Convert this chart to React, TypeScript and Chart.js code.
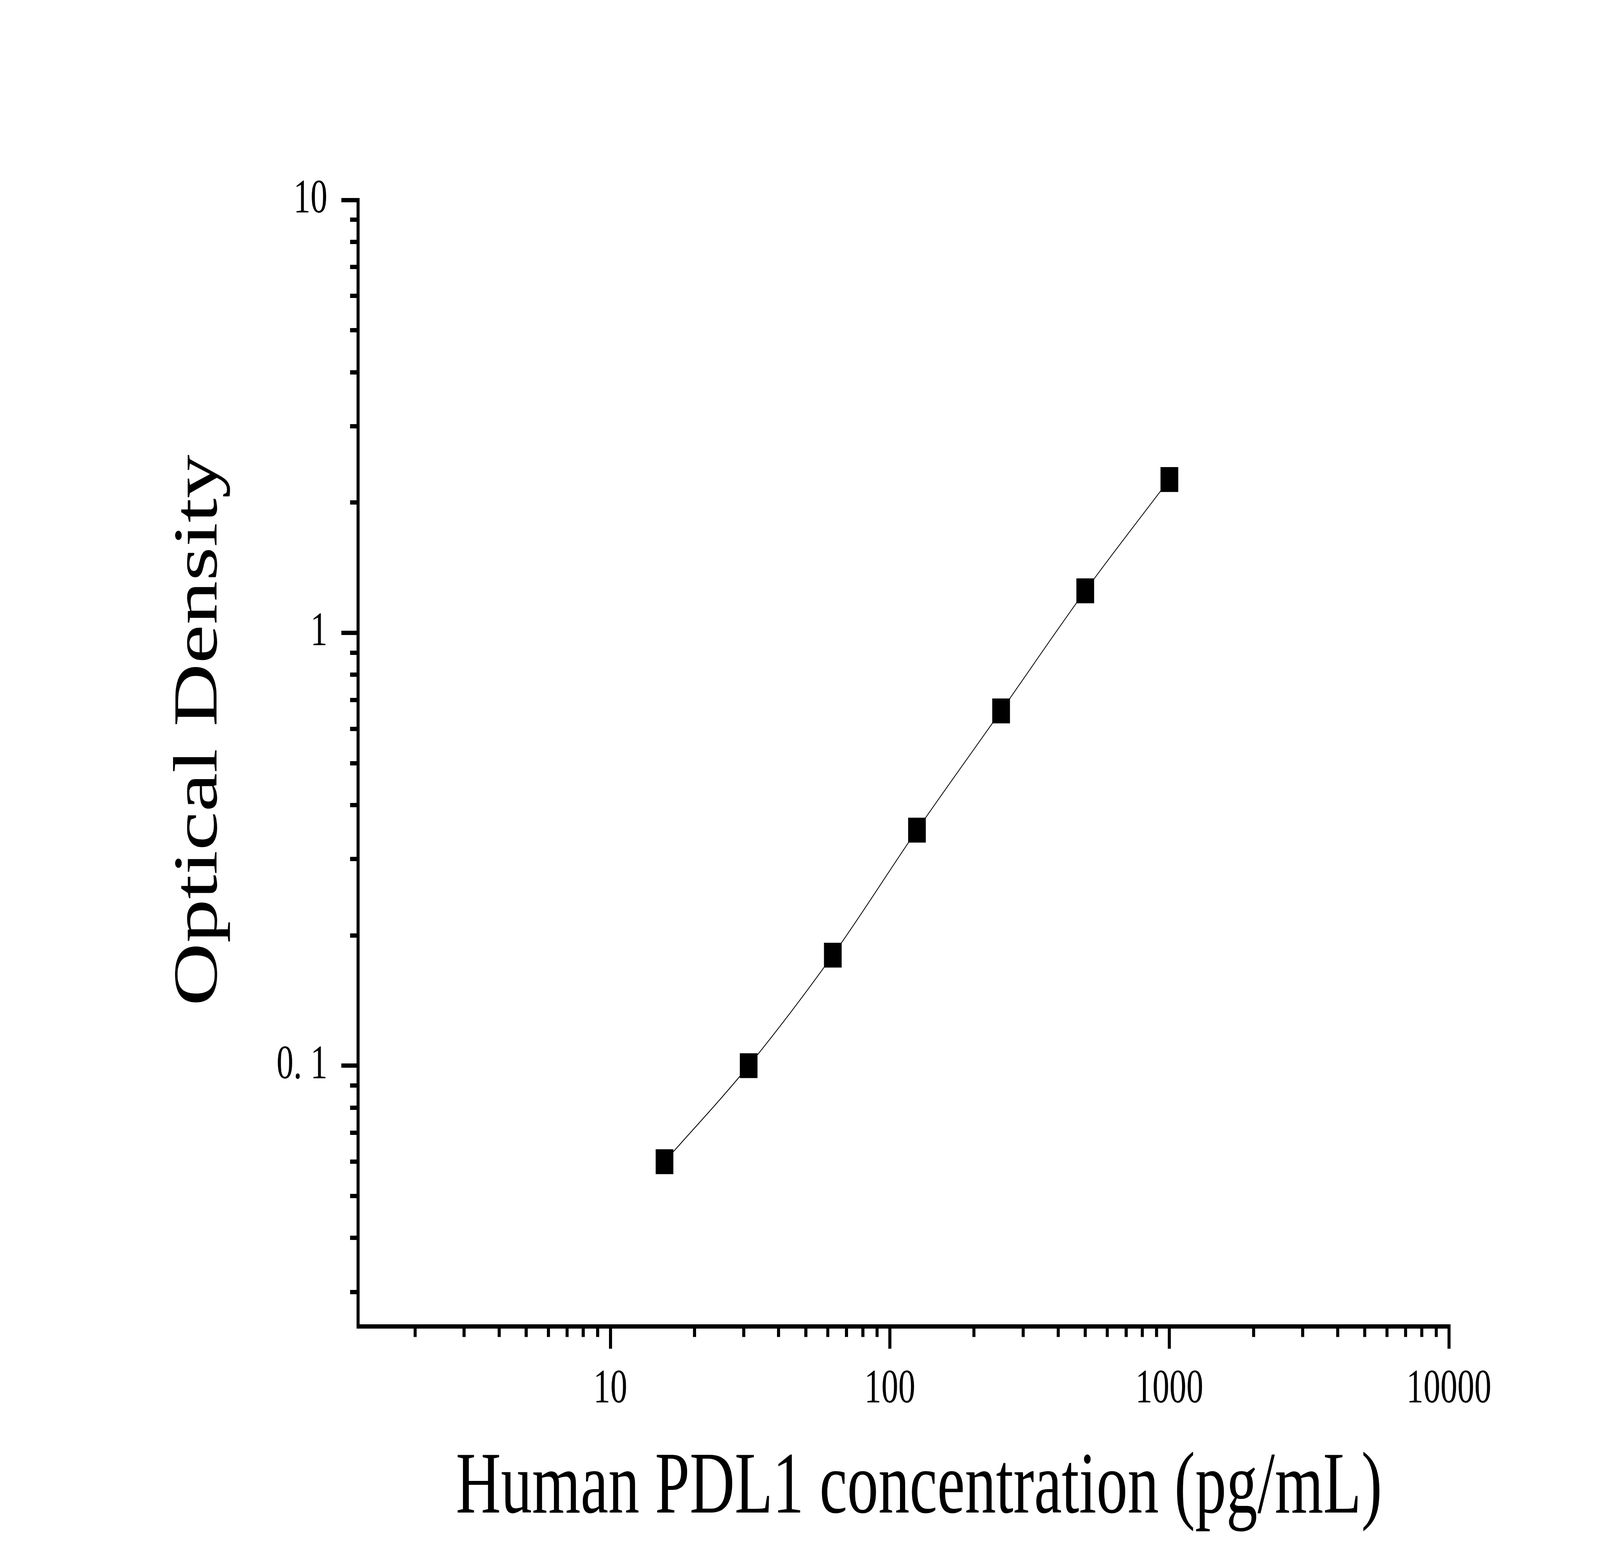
import React, { useEffect, useRef } from "react";
import { Chart, registerables } from "chart.js";

Chart.register(...registerables);

// ---- data ----
const concentrations = [15.625, 31.25, 62.5, 125, 250, 500, 1000];
const opticalDensity = [0.06, 0.1, 0.18, 0.35, 0.66, 1.25, 2.26];

const X_MIN = 1.25;
const X_MAX = 10000;
const Y_MIN = 0.025;
const Y_MAX = 10;

const xMajorTicks = [10, 100, 1000, 10000];
const xTickLabels = ["10", "100", "1000", "10000"];
const xMinorTicks = [
  2, 3, 4, 5, 6, 7, 8, 9,
  20, 30, 40, 50, 60, 70, 80, 90,
  200, 300, 400, 500, 600, 700, 800, 900,
  2000, 3000, 4000, 5000, 6000, 7000, 8000, 9000,
];

const yMajorTicks = [0.1, 1, 10];
const yTickLabels = ["0. 1", "1", "10"];
const yMinorTicks = [
  0.03, 0.04, 0.05, 0.06, 0.07, 0.08, 0.09,
  0.2, 0.3, 0.4, 0.5, 0.6, 0.7, 0.8, 0.9,
  2, 3, 4, 5, 6, 7, 8, 9,
];

// leading spaces nudge the centred titles to where the original places them
const xTitle = "  Human PDL1 concentration (pg/mL)";
const yTitle = "   Optical Density";

const W = 5749;
const H = 4015;
const FONT = "'Liberation Serif', 'Times New Roman', serif";

function labelFor(values: number[], labels: string[], v: number) {
  const i = values.findIndex((t) => Math.abs(t - v) / t < 1e-6);
  return i >= 0 ? labels[i] : "";
}

export default function App() {
  const ref = useRef<HTMLCanvasElement | null>(null);

  useEffect(() => {
    if (!ref.current) return;
    const chart = new Chart(ref.current, {
      type: "line",
      data: {
        datasets: [
          {
            data: concentrations.map((c, i) => ({ x: c, y: opticalDensity[i] })),
            borderColor: "#000",
            borderWidth: 2.5,
            backgroundColor: "#000",
            pointStyle: "rect",
            pointRadius: 45,
            pointBorderWidth: 0,
            pointBackgroundColor: "#000",
            cubicInterpolationMode: "monotone",
            fill: false,
          },
        ],
      },
      options: {
        animation: false,
        responsive: false,
        devicePixelRatio: 1,
        events: [],
        layout: { padding: { left: 0, top: 512, right: 543, bottom: 0 } },
        plugins: { legend: { display: false }, tooltip: { enabled: false }, title: { display: false } },
        scales: {
          x: {
            type: "logarithmic",
            position: "bottom",
            min: X_MIN,
            max: X_MAX,
            afterBuildTicks: (axis: any) => {
              axis.ticks = xMajorTicks.map((v) => ({ value: v, major: false }));
            },
            afterFit: (axis: any) => {
              axis.height = H - 3396;
            },
            border: { display: true, color: "#000", width: 11 },
            grid: { drawOnChartArea: false, drawTicks: true, tickLength: 57.5, tickWidth: 11, tickColor: "#000", lineWidth: 11, color: "#000" },
            ticks: {
              autoSkip: false,
              maxRotation: 0,
              padding: 32,
              color: "#000",
              font: { family: FONT, size: 122 },
              callback: (v: any) => labelFor(xMajorTicks, xTickLabels, Number(v)),
            },
            title: {
              display: true,
              text: xTitle,
              color: "#000",
              font: { family: FONT, size: 224 },
              padding: { top: 0, bottom: 66 },
            },
          },
          x2: {
            type: "logarithmic",
            axis: "x",
            position: { y: Y_MIN } as any,
            min: X_MIN,
            max: X_MAX,
            afterBuildTicks: (axis: any) => {
              axis.ticks = xMinorTicks.map((v) => ({ value: v, major: false }));
            },
            border: { display: false },
            grid: { drawOnChartArea: false, drawTicks: true, tickLength: 27.5, tickWidth: 11, tickColor: "#000", lineWidth: 11, color: "#000" },
            ticks: { display: false, autoSkip: false },
          },
          y: {
            type: "logarithmic",
            position: "left",
            min: Y_MIN,
            max: Y_MAX,
            afterBuildTicks: (axis: any) => {
              axis.ticks = yMajorTicks.map((v) => ({ value: v, major: false }));
            },
            afterFit: (axis: any) => {
              axis.width = 1286;
            },
            border: { display: true, color: "#000", width: 11 },
            grid: { drawOnChartArea: false, drawTicks: true, tickLength: 59.5, tickWidth: 11, tickColor: "#000", lineWidth: 11, color: "#000" },
            ticks: {
              autoSkip: false,
              padding: 50,
              color: "#000",
              font: { family: FONT, size: 122 },
              callback: (v: any) => labelFor(yMajorTicks, yTickLabels, Number(v)),
            },
            title: {
              display: true,
              text: yTitle,
              color: "#000",
              font: { family: FONT, size: 224 },
              padding: { top: 585, bottom: 0 },
            },
          },
          y2: {
            type: "logarithmic",
            axis: "y",
            position: { x: X_MIN } as any,
            min: Y_MIN,
            max: Y_MAX,
            afterBuildTicks: (axis: any) => {
              axis.ticks = yMinorTicks.map((v) => ({ value: v, major: false }));
            },
            border: { display: false },
            grid: { drawOnChartArea: false, drawTicks: true, tickLength: 28, tickWidth: 11, tickColor: "#000", lineWidth: 11, color: "#000" },
            ticks: { display: false, autoSkip: false },
          },
        },
      } as any,
    });
    return () => chart.destroy();
  }, []);

  // The drawing is laid out at 5749x4015; the canvas is shown at the size of the window.
  return (
    <div style={{ position: "fixed", left: 0, top: 0, width: "100vw", height: "100vh", background: "#fff", overflow: "hidden" }}>
      <canvas ref={ref} width={W} height={H} style={{ display: "block", width: "100%", height: "100%" }} />
    </div>
  );
}
